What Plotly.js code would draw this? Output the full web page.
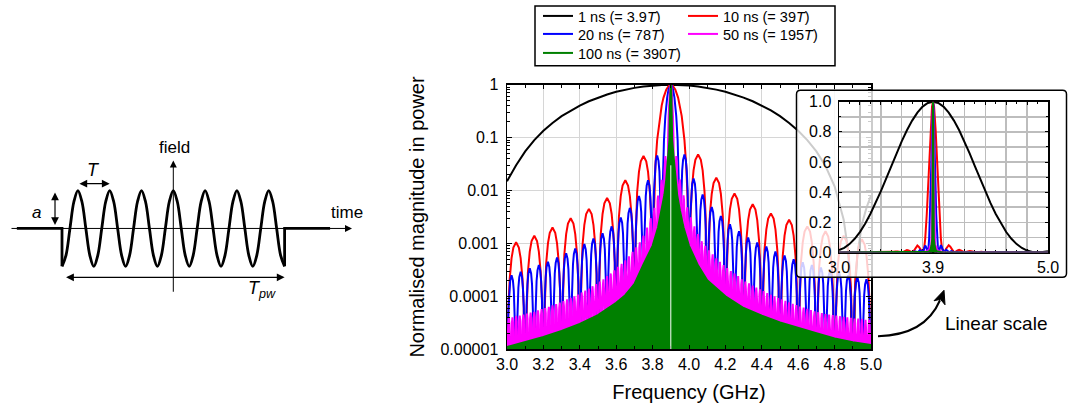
<!DOCTYPE html>
<html>
<head>
<meta charset="utf-8">
<script src="https://cdn.plot.ly/plotly-3.0.1.min.js"></script>
<style>
html,body{margin:0;padding:0;background:#ffffff;}
#chart{width:1075px;height:410px;}
</style>
</head>
<body>
<div id="chart"></div>
<script>
// ================= DATA =================
const centreGHz = 3.9;
const seriesNames = [
  '1 ns (= 3.9<i>T</i>)',
  '10 ns (= 39<i>T</i>)',
  '20 ns (= 78<i>T</i>)',
  '50 ns (= 195<i>T</i>)',
  '100 ns (= 390<i>T</i>)'
];
const seriesColors = ['#000000', '#ff0000', '#0000ff', '#ff00ff', '#008000'];

// lobe width (GHz) of each gated pulse = 1 / pulse length
const lobeWidth10 = 0.1;
const lobeWidth20 = 0.05;
const lobeWidth50 = 0.02;

// 1 ns pulse: normalised power vs frequency
const freq1ns = [3.0,3.05,3.1,3.15,3.2,3.25,3.3,3.35,3.4,3.45,3.5,3.55,3.6,3.65,3.7,3.75,3.8,3.85,3.9,
  3.95,4.0,4.05,4.1,4.15,4.2,4.25,4.3,4.35,4.4,4.45,4.5,4.55,4.6,4.65,4.7,4.75,4.8,4.85,4.875,4.89,4.9,
  4.91,4.925,4.95,4.975,5.0];
const pow1ns = [0.015,0.03,0.055,0.09,0.135,0.19,0.255,0.327,0.405,0.488,0.573,0.657,0.737,0.811,0.875,0.928,0.968,0.992,1,
  0.992,0.968,0.928,0.875,0.811,0.737,0.657,0.573,0.488,0.405,0.327,0.255,0.19,0.135,0.09,0.055,0.029,0.012,0.0028,0.0007,0.0001,0,
  0.0001,0.0006,0.0023,0.0047,0.008];

// side-lobe peak levels, listed outward from the carrier (left = below 3.9 GHz, right = above)
const peaks10Left  = [0.045,0.0157,0.0072,0.0045,0.003,0.002,0.0014,0.00105];
const peaks10Right = [0.048,0.0174,0.0088,0.0055,0.0037,0.0028,0.0021,0.0017,0.0014,0.0012];

const peaks20Left  = [0.046,0.0157,0.0079,0.0047,0.0031,0.0021,0.00155,0.00124,0.00097,0.0008,0.00065,
  0.00054,0.00045,0.00039,0.00034,0.00029,0.00025];
const peaks20Right = [0.048,0.0169,0.0084,0.0049,0.0033,0.0023,0.0017,0.0013,0.00104,0.00087,0.0007,
  0.00059,0.0005,0.00044,0.00039,0.00035,0.00031,0.00028,0.00025,0.00023,0.00021];

const peaks50Left  = [0.045,0.016,0.008,0.0047,0.003,0.002,0.0014,0.00105,0.00084,0.00069,
  0.00057,0.00048,0.00041,0.00036,0.00031,0.00027,0.00024,0.00021,0.00019,0.00017,
  0.000155,0.00014,0.000128,0.000118,0.000108,0.0001,0.000093,0.000087,0.000081,0.000076,
  0.000071,0.000067,0.000063,0.00006,0.000057,0.000054,0.000051,0.000049,0.000047,0.000045,
  0.000043,0.000042,0.00004,0.000039];
const peaks50Right = [0.045,0.0162,0.0081,0.0048,0.0031,0.0021,0.0015,0.0011,0.0009,0.00074,
  0.00062,0.00052,0.00045,0.00039,0.00034,0.0003,0.00027,0.00024,0.00021,0.00019,
  0.000175,0.00016,0.000146,0.000135,0.000125,0.000115,0.000107,0.0001,0.000093,0.000087,
  0.000082,0.000077,0.000072,0.000068,0.000064,0.000061,0.000058,0.000055,0.000052,0.00005,
  0.000048,0.000046,0.000045,0.000044,0.000043,0.000042,0.000041,0.00004,0.000039,0.000038,
  0.000038,0.000037,0.000036,0.000036];

// shape of one lobe (position across the lobe, level relative to its peak)
const mainLobeU   = [-1,-0.97,-0.92,-0.85,-0.75,-0.6,-0.5,-0.4,-0.25,-0.1,0,0.1,0.25,0.4,0.5,0.6,0.75,0.85,0.92,0.97,1];
const mainLobeRel = [0,0.001,0.0074,0.029,0.09,0.255,0.405,0.573,0.81,0.968,1,0.968,0.81,0.573,0.405,0.255,0.09,0.029,0.0074,0.001,0];
const sideLobeU   = [0,0.03,0.08,0.15,0.25,0.35,0.5,0.65,0.75,0.85,0.92,0.97,1];
const sideLobeRel = [0,0.009,0.062,0.206,0.5,0.794,1,0.794,0.5,0.206,0.062,0.009,0];

// 100 ns pulse: top of its (unresolved, solid) spectrum
const freq100ns = [3.0,3.1,3.2,3.3,3.4,3.5,3.6,3.65,3.7,3.75,3.8,3.83,3.85,3.865,3.875,3.885,3.8925,3.895,3.8975,3.9,
  3.9025,3.905,3.9075,3.915,3.925,3.935,3.95,3.97,4.0,4.05,4.1,4.2,4.3,4.4,4.5,4.6,4.7,4.8,4.9,5.0];
const pow100ns = [1.1e-5,1.35e-5,1.7e-5,2.2e-5,3.0e-5,4.4e-5,7.5e-5,1.05e-4,1.7e-4,4.0e-4,9e-4,2.0e-3,4.2e-3,8.3e-3,0.016,0.045,0.09,0.405,0.81,1,
  0.81,0.405,0.09,0.045,0.016,0.0083,0.0042,0.002,9e-4,3.8e-4,2.0e-4,1.0e-4,6.0e-5,4.3e-5,3.2e-5,2.5e-5,2.0e-5,1.6e-5,1.35e-5,1.2e-5];

// schematic of the gated carrier (time in periods T, field in units of a)
const waveLeadT = [-1.42, 0, 0];
const waveLeadF = [0, 0, -1];
const waveT = [0,0.125,0.25,0.375,0.5,0.625,0.75,0.875,1,1.125,1.25,1.375,1.5,1.625,1.75,1.875,2,
  2.125,2.25,2.375,2.5,2.625,2.75,2.875,3,3.125,3.25,3.375,3.5,3.625,3.75,3.875,4,
  4.125,4.25,4.375,4.5,4.625,4.75,4.875,5,5.125,5.25,5.375,5.5,5.625,5.75,5.875,6,
  6.125,6.25,6.375,6.5,6.625,6.75,6.875,7];
const waveF = [-1,-0.71,0,0.71,1,0.71,0,-0.71,-1,-0.71,0,0.71,1,0.71,0,-0.71,-1,
  -0.71,0,0.71,1,0.71,0,-0.71,-1,-0.71,0,0.71,1,0.71,0,-0.71,-1,
  -0.71,0,0.71,1,0.71,0,-0.71,-1,-0.71,0,0.71,1,0.71,0,-0.71,-1,
  -0.71,0,0.71,1,0.71,0,-0.71,-1];
const waveTailT = [7, 7, 8.43];
const waveTailF = [-1, 0, 0];

// axis tick labels
const logTickVals = [1e-5,1e-4,1e-3,1e-2,1e-1,1];
const logTickText = ['0.00001','0.0001','0.001','0.01','0.1','1'];
const insetTickVals = [3.0,3.2,3.4,3.6,3.8,3.9,4.0,4.2,4.4,4.6,4.8,5.0];
const insetTickText = ['3.0','','','','','3.9','','','','','','5.0'];

// ================= BUILD =================
const FONT = '"Liberation Sans", Arial, Helvetica, sans-serif';
const logFloor = 1e-9; // zero power drawn below the log axis

function lobeSeries(width, leftPeaks, rightPeaks) {
  const x = [], y = [];
  for (let k = leftPeaks.length; k >= 1; k--) {
    const start = centreGHz - (k + 1) * width;
    sideLobeU.forEach((u, j) => { x.push(start + u * width); y.push(leftPeaks[k - 1] * sideLobeRel[j]); });
  }
  mainLobeU.forEach((u, j) => { x.push(centreGHz + u * width); y.push(mainLobeRel[j]); });
  for (let k = 1; k <= rightPeaks.length; k++) {
    const start = centreGHz + k * width;
    sideLobeU.forEach((u, j) => { x.push(start + u * width); y.push(rightPeaks[k - 1] * sideLobeRel[j]); });
  }
  return {x, y};
}
const toLog = arr => arr.map(v => Math.max(v, logFloor));

const s10 = lobeSeries(lobeWidth10, peaks10Left, peaks10Right);
const s20 = lobeSeries(lobeWidth20, peaks20Left, peaks20Right);
const s50 = lobeSeries(lobeWidth50, peaks50Left, peaks50Right);

const W = 1075, H = 410;
const px = v => v / W;
const py = v => 1 - v / H;

const traces = [];
// ---- main log-scale spectrum (x, y); legend rows: [1 ns, 10 ns], [20 ns, 50 ns], [100 ns]
traces.push({x: freq1ns, y: toLog(pow1ns), name: seriesNames[0], legend: 'legend', mode: 'lines',
  line: {color: seriesColors[0], width: 2}});
traces.push({x: s10.x, y: toLog(s10.y), name: seriesNames[1], legend: 'legend', mode: 'lines',
  line: {color: seriesColors[1], width: 2}});
traces.push({x: s20.x, y: toLog(s20.y), name: seriesNames[2], legend: 'legend2', mode: 'lines',
  line: {color: seriesColors[2], width: 2}});
traces.push({x: s50.x, y: toLog(s50.y), name: seriesNames[3], legend: 'legend2', mode: 'lines',
  line: {color: seriesColors[3], width: 2}});
traces.push({x: freq100ns, y: pow100ns, mode: 'lines', fill: 'tozeroy', fillcolor: seriesColors[4],
  line: {color: seriesColors[4], width: 0}, showlegend: false});
traces.push({x: freq100ns, y: pow100ns, name: seriesNames[4], legend: 'legend3', mode: 'lines',
  line: {color: seriesColors[4], width: 2}});
// ---- inset panel background holder (x2, y2)
traces.push({x: [], y: [], xaxis: 'x2', yaxis: 'y2', mode: 'lines', showlegend: false});
// ---- inset linear-scale spectrum (x3, y3)
traces.push({x: freq1ns, y: pow1ns, xaxis: 'x3', yaxis: 'y3', mode: 'lines', showlegend: false,
  line: {color: seriesColors[0], width: 2}});
traces.push({x: s10.x, y: s10.y, xaxis: 'x3', yaxis: 'y3', mode: 'lines', showlegend: false,
  line: {color: seriesColors[1], width: 2}});
traces.push({x: s20.x, y: s20.y, xaxis: 'x3', yaxis: 'y3', mode: 'lines', showlegend: false,
  line: {color: seriesColors[2], width: 2}});
traces.push({x: s50.x, y: s50.y, xaxis: 'x3', yaxis: 'y3', mode: 'lines', showlegend: false,
  line: {color: seriesColors[3], width: 2}});
traces.push({x: freq100ns, y: pow100ns, xaxis: 'x3', yaxis: 'y3', mode: 'lines', showlegend: false,
  fill: 'tozeroy', fillcolor: seriesColors[4], line: {color: seriesColors[4], width: 2}});
// ---- schematic (x4, y4)
const waveLine = {color: '#000000', width: 2.8};
traces.push({x: waveLeadT, y: waveLeadF, xaxis: 'x4', yaxis: 'y4', mode: 'lines', showlegend: false, line: waveLine});
traces.push({x: waveT, y: waveF, xaxis: 'x4', yaxis: 'y4', mode: 'lines', showlegend: false,
  line: Object.assign({shape: 'spline', smoothing: 1}, waveLine)});
traces.push({x: waveTailT, y: waveTailF, xaxis: 'x4', yaxis: 'y4', mode: 'lines', showlegend: false, line: waveLine});

const axisBase = {
  showline: true, linecolor: '#000000', linewidth: 1.5, mirror: 'allticks',
  ticks: 'inside', tickcolor: '#000000', zeroline: false, automargin: false,
  tickfont: {family: FONT, size: 16, color: '#000000'}
};

const legendBase = {
  xanchor: 'left', yanchor: 'middle', orientation: 'h', bgcolor: 'rgba(0,0,0,0)', borderwidth: 0,
  font: {family: FONT, size: 14.5, color: '#000000'}, tracegroupgap: 0, itemwidth: 30,
  entrywidth: 100, entrywidthmode: 'pixels', x: px(538)
};

const layout = {
  width: W, height: H, autosize: false,
  margin: {l: 0, r: 0, t: 0, b: 0, pad: 0},
  paper_bgcolor: '#ffffff', plot_bgcolor: 'rgba(0,0,0,0)',
  font: {family: FONT, color: '#000000'},
  hovermode: false,
  showlegend: true,
  legend: Object.assign({}, legendBase, {y: py(15)}),
  legend2: Object.assign({}, legendBase, {y: py(34)}),
  legend3: Object.assign({}, legendBase, {y: py(53)}),
  xaxis: Object.assign({}, axisBase, {
    domain: [px(507), px(871)], anchor: 'y', range: [3, 5], dtick: 0.2, tick0: 3, tickformat: '.1f',
    ticklen: 4, showgrid: true, gridcolor: '#d6d6d6', gridwidth: 1,
    minor: {dtick: 0.1, tick0: 3, ticks: 'inside', ticklen: 3, tickcolor: '#000000', showgrid: false},
    title: {text: 'Frequency (GHz)', font: {family: FONT, size: 20, color: '#000000'}, standoff: 13}
  }),
  yaxis: Object.assign({}, axisBase, {
    domain: [py(349), py(84)], anchor: 'x', type: 'log', range: [-5, 0],
    tickmode: 'array', tickvals: logTickVals, ticktext: logTickText,
    ticklen: 5, ticklabelstandoff: 4, showgrid: true, gridcolor: '#d6d6d6', gridwidth: 1,
    minor: {dtick: 'D1', ticks: 'inside', ticklen: 3, tickcolor: '#000000', showgrid: false},
    title: {text: 'Normalised magnitude in power', font: {family: FONT, size: 20, color: '#000000'}, standoff: 10}
  }),
  xaxis2: {domain: [px(793), px(1070)], anchor: 'y2', range: [793, 1070], visible: false, fixedrange: true},
  yaxis2: {domain: [py(280), py(87)], anchor: 'x2', range: [280, 87], visible: false, fixedrange: true},
  xaxis3: Object.assign({}, axisBase, {
    domain: [px(839), px(1048)], anchor: 'y3', range: [3, 5],
    tickmode: 'array', tickvals: insetTickVals, ticktext: insetTickText,
    ticklen: 3, showgrid: true, gridcolor: '#bdbdbd', gridwidth: 1.5, layer: 'below traces',
    minor: {dtick: 0.1, tick0: 3, ticks: 'inside', ticklen: 2, tickcolor: '#000000', showgrid: false}
  }),
  yaxis3: Object.assign({}, axisBase, {
    domain: [py(252), py(101)], anchor: 'x3', range: [0, 1], dtick: 0.2, tick0: 0, tickformat: '.1f',
    ticklen: 3, ticklabelstandoff: 3, showgrid: true, gridcolor: '#bdbdbd', gridwidth: 1.5, layer: 'below traces',
    minor: {dtick: 0.1, tick0: 0, ticks: 'inside', ticklen: 2, tickcolor: '#000000', showgrid: true,
            gridcolor: '#bdbdbd', gridwidth: 1.5}
  }),
  xaxis4: {domain: [0, px(365)], anchor: 'y4', range: [-1.9497, 9.528], visible: false, fixedrange: true},
  yaxis4: {domain: [py(310), py(130)], anchor: 'x4', range: [-2.158, 2.579], visible: false, fixedrange: true},
  shapes: [
    // legend frame
    {type: 'rect', xref: 'paper', yref: 'paper', x0: px(535), x1: px(835), y0: py(65), y1: py(5),
     line: {color: '#000000', width: 1.5}, fillcolor: 'rgba(0,0,0,0)', layer: 'above'},
    // translucent inset panel with rounded corners
    {type: 'path', xref: 'x2', yref: 'y2', layer: 'below',
     path: 'M800.5,89.5 L1062.5,89.5 Q1066.5,89.5 1066.5,93.5 L1066.5,273 Q1066.5,277 1062.5,277 ' +
           'L800.5,277 Q796.5,277 796.5,273 L796.5,93.5 Q796.5,89.5 800.5,89.5 Z',
     fillcolor: 'rgba(255,255,255,0.8)', line: {color: '#000000', width: 1.5}},
    // white gap at the carrier in the 100 ns spectrum
    {type: 'line', xref: 'x', yref: 'y', x0: centreGHz, x1: centreGHz, y0: 1e-5, y1: 0.03,
     line: {color: '#ffffff', width: 1}, layer: 'above'},
    // curved pointer to the inset
    {type: 'path', xref: 'paper', yref: 'paper', layer: 'above',
     path: 'M0.81674,0.18049 Q0.86047,0.18293 0.87442,0.26829',
     line: {color: '#000000', width: 2}},
    {type: 'path', xref: 'paper', yref: 'paper', layer: 'above',
     path: 'M0.87814,0.29268 L0.86884,0.26707 L0.87488,0.27073 L0.87907,0.25732 Z',
     fillcolor: '#000000', line: {color: '#000000', width: 1}}
  ],
  annotations: [
    {xref: 'paper', yref: 'paper', x: px(996), y: py(323), xanchor: 'center', yanchor: 'middle',
     text: 'Linear scale', showarrow: false, font: {family: FONT, size: 19, color: '#000000'}},
    // schematic axes
    {xref: 'x4', yref: 'y4', axref: 'x4', ayref: 'y4', x: 9.12, y: 0, ax: -1.635, ay: 0, text: '',
     showarrow: true, arrowhead: 2, arrowsize: 1.4, arrowwidth: 1, arrowcolor: '#000000'},
    {xref: 'x4', yref: 'y4', axref: 'x4', ayref: 'y4', x: 3.5, y: 1.79, ax: 3.5, ay: -1.71, text: '',
     showarrow: true, arrowhead: 2, arrowsize: 1.4, arrowwidth: 1, arrowcolor: '#000000'},
    // amplitude a
    {xref: 'x4', yref: 'y4', axref: 'x4', ayref: 'y4', x: -0.22, y: 0.95, ax: -0.22, ay: 0.05, text: '',
     showarrow: true, arrowside: 'end+start', arrowhead: 2, startarrowhead: 2, arrowsize: 1.3, startarrowsize: 1.3,
     arrowwidth: 1.2, arrowcolor: '#000000'},
    // period T
    {xref: 'x4', yref: 'y4', axref: 'x4', ayref: 'y4', x: 1.5, y: 1.18, ax: 0.5, ay: 1.18, text: '',
     showarrow: true, arrowside: 'end+start', arrowhead: 2, startarrowhead: 2, arrowsize: 1.3, startarrowsize: 1.3,
     arrowwidth: 1.2, arrowcolor: '#000000'},
    // pulse width
    {xref: 'x4', yref: 'y4', axref: 'x4', ayref: 'y4', x: 7.0, y: -1.29, ax: 0.08, ay: -1.29, text: '',
     showarrow: true, arrowside: 'end+start', arrowhead: 2, startarrowhead: 2, arrowsize: 1.3, startarrowsize: 1.3,
     arrowwidth: 1.2, arrowcolor: '#000000'},
    {xref: 'x4', yref: 'y4', x: 3.55, y: 2.13, text: 'field', showarrow: false,
     font: {family: FONT, size: 17, color: '#000000'}},
    {xref: 'x4', yref: 'y4', x: 8.95, y: 0.42, text: 'time', showarrow: false,
     font: {family: FONT, size: 17, color: '#000000'}},
    {xref: 'x4', yref: 'y4', x: -0.79, y: 0.42, text: '<i>a</i>', showarrow: false,
     font: {family: FONT, size: 17, color: '#000000'}},
    {xref: 'x4', yref: 'y4', x: 1.0, y: 1.55, text: '<i>T</i>', showarrow: false,
     font: {family: FONT, size: 18, color: '#000000'}},
    {xref: 'x4', yref: 'y4', x: 6.3, y: -1.6, text: '<i>T</i><sub><i>pw</i></sub>', showarrow: false,
     font: {family: FONT, size: 18, color: '#000000'}}
  ]
};

Plotly.newPlot('chart', traces, layout, {staticPlot: true, displayModeBar: false});
</script>
</body>
</html>
